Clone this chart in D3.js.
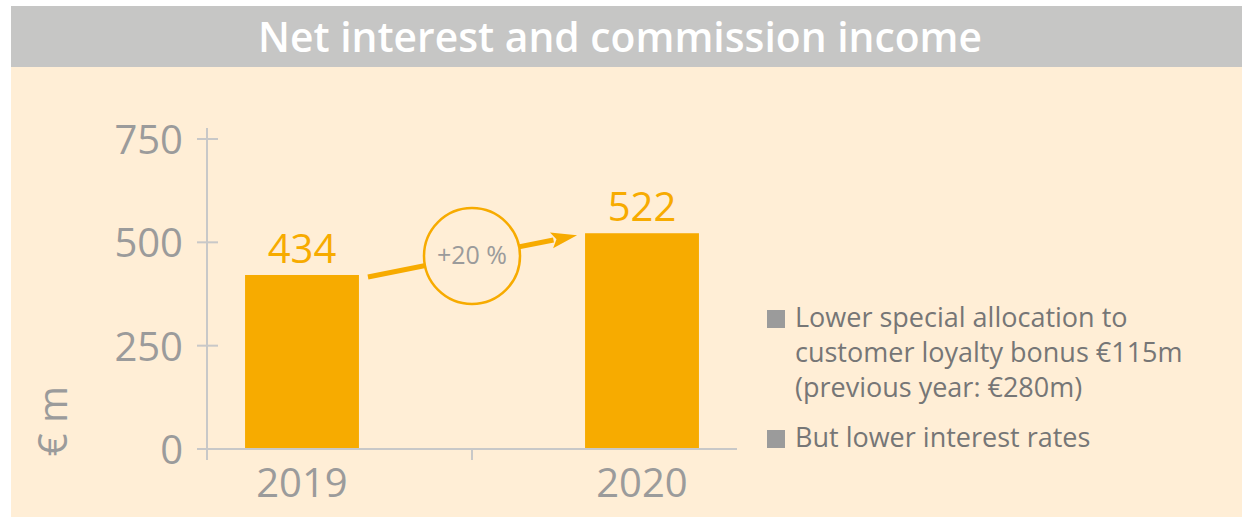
<!DOCTYPE html>
<html>
<head>
<meta charset="utf-8">
<title>Net interest and commission income</title>
<script src="https://d3js.org/d3.v7.min.js"></script>
<style>
  body { margin: 0; background: #fff; }
  text { font-family: "Open Sans", "DejaVu Sans", sans-serif; }
</style>
</head>
<body>
<script>
  // data
  var years = ["2019", "2020"];
  var barValues = [421, 522];          // bar heights as drawn
  var barLabels = ["434", "522"];      // printed values
  var yTicks = [0, 250, 500, 750];
  var changeLabel = "+20 %";
  var unitLabel = "€ m";
  var title = "Net interest and commission income";
  var notes = [
    ["Lower special allocation to", "customer loyalty bonus €115m", "(previous year: €280m)"],
    ["But lower interest rates"]
  ];

  var W = 1242, H = 517;
  var orange = "#f7ab00", grey = "#9b9b9b", axisGrey = "#c8c8c8";

  var svg = d3.select("body").append("svg")
    .attr("width", W).attr("height", H);

  // panel + title bar
  svg.append("rect").attr("x", 11).attr("y", 6).attr("width", W - 11).attr("height", H - 6)
    .attr("fill", "#ffeed6");
  svg.append("rect").attr("x", 11).attr("y", 6).attr("width", W - 11).attr("height", 61)
    .attr("fill", "#c6c6c5");
  svg.append("text").attr("x", 620).attr("y", 52)
    .attr("text-anchor", "middle").attr("fill", "#fff")
    .attr("font-size", 42).attr("font-weight", 600)
    .attr("textLength", 724).attr("lengthAdjust", "spacingAndGlyphs")
    .text(title);

  var y = d3.scaleLinear().domain([0, 750]).range([449, 139]);
  var x = d3.scaleBand().domain(years).range([132, 812]).paddingInner(0.665).paddingOuter(0.3325);

  // y axis
  var yAxis = svg.append("g").attr("transform", "translate(207,0)")
    .call(d3.axisLeft(y).tickValues(yTicks).tickSize(0).tickPadding(24));
  yAxis.select(".domain").remove();
  yAxis.selectAll("text").attr("font-size", 40).attr("fill", grey)
    .attr("font-family", "Open Sans").attr("dy", "0.36em");
  svg.append("line").attr("x1", 207).attr("x2", 207).attr("y1", 128).attr("y2", 460)
    .attr("stroke", axisGrey).attr("stroke-width", 2);
  svg.selectAll(".ytick").data(yTicks).enter().append("line")
    .attr("x1", 197).attr("x2", 218)
    .attr("y1", function (d) { return y(d); }).attr("y2", function (d) { return y(d); })
    .attr("stroke", axisGrey).attr("stroke-width", 2);

  svg.append("text")
    .attr("transform", "translate(67," + 421 + ") rotate(-90)")
    .attr("text-anchor", "middle").attr("font-size", 40).attr("fill", grey)
    .text(unitLabel);

  // bars
  svg.selectAll(".bar").data(years).enter().append("rect")
    .attr("x", function (d) { return x(d); })
    .attr("width", x.bandwidth())
    .attr("y", function (d, i) { return y(barValues[i]); })
    .attr("height", function (d, i) { return y(0) - y(barValues[i]); })
    .attr("fill", orange);

  // x axis
  svg.append("line").attr("x1", 197).attr("x2", 737).attr("y1", 449).attr("y2", 449)
    .attr("stroke", axisGrey).attr("stroke-width", 2);
  var mid = (x(years[0]) + x(years[1]) + x.bandwidth()) / 2;
  svg.append("line").attr("x1", mid).attr("x2", mid).attr("y1", 449).attr("y2", 460)
    .attr("stroke", axisGrey).attr("stroke-width", 2);
  svg.selectAll(".xl").data(years).enter().append("text")
    .attr("x", function (d) { return x(d) + x.bandwidth() / 2; })
    .attr("y", 497).attr("text-anchor", "middle")
    .attr("font-size", 40).attr("fill", grey)
    .text(function (d) { return d; });

  // value labels
  svg.selectAll(".vl").data(years).enter().append("text")
    .attr("x", function (d) { return x(d) + x.bandwidth() / 2; })
    .attr("y", function (d, i) { return y(barValues[i]) - 12; })
    .attr("text-anchor", "middle")
    .attr("font-size", 40).attr("fill", orange)
    .text(function (d, i) { return barLabels[i]; });

  // growth arrow
  var x0 = x(years[0]) + x.bandwidth() + 9, y0 = y(barValues[0]) + 2;
  var x1 = x(years[1]) - 8, y1 = y(barValues[1]) + 2;
  var ang = Math.atan2(y1 - y0, x1 - x0), hl = 26, hw = 8;
  var bx = x1 - hl * Math.cos(ang), by = y1 - hl * Math.sin(ang);
  svg.append("line").attr("x1", x0).attr("y1", y0).attr("x2", bx + 2 * Math.cos(ang)).attr("y2", by + 2 * Math.sin(ang))
    .attr("stroke", orange).attr("stroke-width", 5);
  svg.append("path")
    .attr("d", "M" + x1 + "," + y1 +
      "L" + (bx + hw * Math.sin(ang)) + "," + (by - hw * Math.cos(ang)) +
      "L" + (bx + 5 * Math.cos(ang)) + "," + (by + 5 * Math.sin(ang)) +
      "L" + (bx - hw * Math.sin(ang)) + "," + (by + hw * Math.cos(ang)) + "Z")
    .attr("fill", orange);
  svg.append("circle").attr("cx", mid).attr("cy", 256).attr("r", 48)
    .attr("fill", "#ffeed6").attr("stroke", orange).attr("stroke-width", 2.5);
  svg.append("text").attr("x", mid).attr("y", 264).attr("text-anchor", "middle")
    .attr("font-size", 25).attr("fill", grey).text(changeLabel);

  // notes
  var ly = 327, lineH = 35;
  notes.forEach(function (lines, k) {
    svg.append("rect").attr("x", 767).attr("y", ly - 17).attr("width", 18).attr("height", 18)
      .attr("fill", grey);
    lines.forEach(function (t, j) {
      svg.append("text").attr("x", 795).attr("y", ly + j * lineH)
        .attr("font-size", 27).attr("fill", "#767676").text(t);
    });
    ly += lines.length * lineH + 15;
  });
</script>
</body>
</html>
